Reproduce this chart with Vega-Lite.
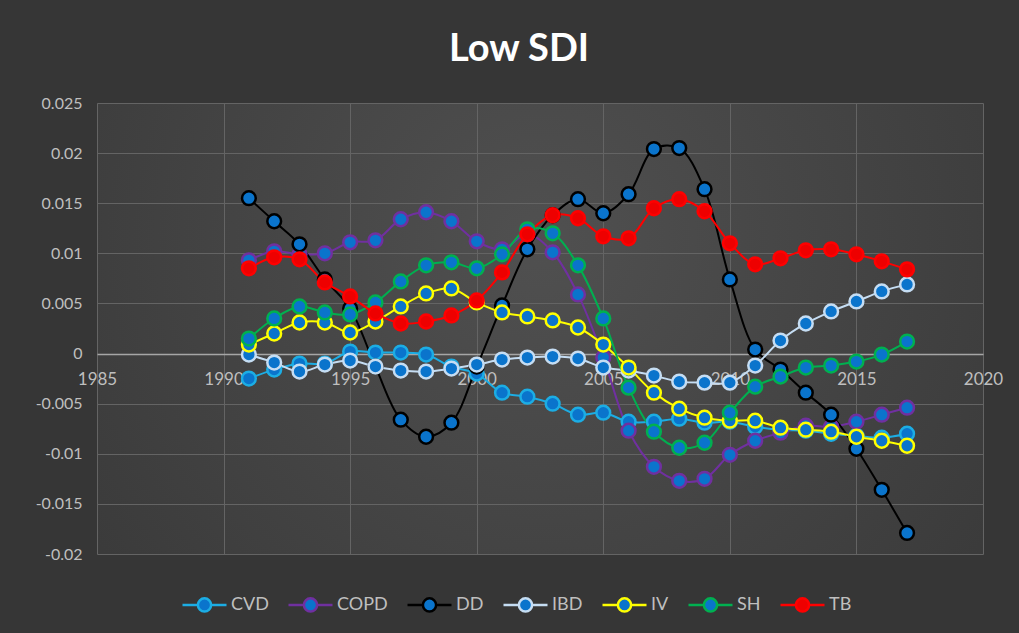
{
  "$schema": "https://vega.github.io/schema/vega-lite/v6.json",
  "width": 886,
  "height": 451,
  "autosize": {"type": "none"},
  "padding": {"left": 97, "top": 103, "right": 36, "bottom": 79},
  "background": "#363636",
  "title": {
    "text": "Low SDI",
    "font": "Lato",
    "fontSize": 38,
    "fontWeight": "bold",
    "color": "#ffffff",
    "anchor": "middle",
    "offset": 26,
    "dx": -21
  },
  "data": {
    "values": [
      {"year": 1991, "CVD": -0.0025, "COPD": 0.0093, "DD": 0.0155, "IBD": -0.0001, "IV": 0.0009, "SH": 0.0015, "TB": 0.0085},
      {"year": 1992, "CVD": -0.0016, "COPD": 0.0102, "DD": 0.0132, "IBD": -0.0009, "IV": 0.0020, "SH": 0.0035, "TB": 0.0096},
      {"year": 1993, "CVD": -0.0010, "COPD": 0.0099, "DD": 0.0109, "IBD": -0.0018, "IV": 0.0031, "SH": 0.0047, "TB": 0.0094},
      {"year": 1994, "CVD": -0.0010, "COPD": 0.0100, "DD": 0.0074, "IBD": -0.0011, "IV": 0.0031, "SH": 0.0041, "TB": 0.0071},
      {"year": 1995, "CVD": 0.0002, "COPD": 0.0111, "DD": 0.0045, "IBD": -0.0007, "IV": 0.0021, "SH": 0.0039, "TB": 0.0057},
      {"year": 1996, "CVD": 0.0001, "COPD": 0.0113, "DD": -0.0013, "IBD": -0.0013, "IV": 0.0032, "SH": 0.0051, "TB": 0.0040},
      {"year": 1997, "CVD": 0.0001, "COPD": 0.0134, "DD": -0.0066, "IBD": -0.0017, "IV": 0.0047, "SH": 0.0072, "TB": 0.0030},
      {"year": 1998, "CVD": -0.0001, "COPD": 0.0141, "DD": -0.0083, "IBD": -0.0018, "IV": 0.0060, "SH": 0.0088, "TB": 0.0032},
      {"year": 1999, "CVD": -0.0013, "COPD": 0.0132, "DD": -0.0069, "IBD": -0.0015, "IV": 0.0065, "SH": 0.0091, "TB": 0.0038},
      {"year": 2000, "CVD": -0.0020, "COPD": 0.0112, "DD": -0.0013, "IBD": -0.0011, "IV": 0.0051, "SH": 0.0085, "TB": 0.0053},
      {"year": 2001, "CVD": -0.0039, "COPD": 0.0104, "DD": 0.0048, "IBD": -0.0006, "IV": 0.0041, "SH": 0.0099, "TB": 0.0081},
      {"year": 2002, "CVD": -0.0043, "COPD": 0.0119, "DD": 0.0104, "IBD": -0.0004, "IV": 0.0037, "SH": 0.0124, "TB": 0.0119},
      {"year": 2003, "CVD": -0.0050, "COPD": 0.0101, "DD": 0.0138, "IBD": -0.0003, "IV": 0.0033, "SH": 0.0120, "TB": 0.0138},
      {"year": 2004, "CVD": -0.0061, "COPD": 0.0059, "DD": 0.0154, "IBD": -0.0005, "IV": 0.0026, "SH": 0.0088, "TB": 0.0135},
      {"year": 2005, "CVD": -0.0059, "COPD": -0.0004, "DD": 0.0140, "IBD": -0.0014, "IV": 0.0009, "SH": 0.0035, "TB": 0.0117},
      {"year": 2006, "CVD": -0.0068, "COPD": -0.0077, "DD": 0.0159, "IBD": -0.0017, "IV": -0.0014, "SH": -0.0034, "TB": 0.0115},
      {"year": 2007, "CVD": -0.0068, "COPD": -0.0113, "DD": 0.0204, "IBD": -0.0022, "IV": -0.0039, "SH": -0.0078, "TB": 0.0145},
      {"year": 2008, "CVD": -0.0065, "COPD": -0.0127, "DD": 0.0205, "IBD": -0.0028, "IV": -0.0055, "SH": -0.0094, "TB": 0.0154},
      {"year": 2009, "CVD": -0.0069, "COPD": -0.0125, "DD": 0.0164, "IBD": -0.0029, "IV": -0.0064, "SH": -0.0089, "TB": 0.0142},
      {"year": 2010, "CVD": -0.0068, "COPD": -0.0101, "DD": 0.0074, "IBD": -0.0029, "IV": -0.0067, "SH": -0.0059, "TB": 0.0110},
      {"year": 2011, "CVD": -0.0073, "COPD": -0.0087, "DD": 0.0004, "IBD": -0.0012, "IV": -0.0067, "SH": -0.0033, "TB": 0.0089},
      {"year": 2012, "CVD": -0.0076, "COPD": -0.0079, "DD": -0.0016, "IBD": 0.0013, "IV": -0.0074, "SH": -0.0023, "TB": 0.0095},
      {"year": 2013, "CVD": -0.0077, "COPD": -0.0072, "DD": -0.0039, "IBD": 0.0030, "IV": -0.0076, "SH": -0.0014, "TB": 0.0103},
      {"year": 2014, "CVD": -0.0080, "COPD": -0.0073, "DD": -0.0061, "IBD": 0.0042, "IV": -0.0078, "SH": -0.0012, "TB": 0.0104},
      {"year": 2015, "CVD": -0.0082, "COPD": -0.0068, "DD": -0.0095, "IBD": 0.0052, "IV": -0.0083, "SH": -0.0008, "TB": 0.0099},
      {"year": 2016, "CVD": -0.0084, "COPD": -0.0061, "DD": -0.0136, "IBD": 0.0062, "IV": -0.0087, "SH": -0.0001, "TB": 0.0092},
      {"year": 2017, "CVD": -0.0080, "COPD": -0.0054, "DD": -0.0179, "IBD": 0.0069, "IV": -0.0092, "SH": 0.0012, "TB": 0.0084}
    ]
  },
  "transform": [
    {"fold": ["CVD", "COPD", "DD", "IBD", "IV", "SH", "TB"], "as": ["series", "value"]}
  ],
  "encoding": {
    "x": {
      "field": "year",
      "type": "quantitative",
      "scale": {"domain": [1985, 2020], "nice": false, "zero": false},
      "axis": {
        "title": null,
        "values": [1985, 1990, 1995, 2000, 2005, 2010, 2015, 2020],
        "format": "d",
        "offset": -200,
        "grid": true,
        "gridColor": "#646464",
        "gridWidth": 1,
        "domain": true,
        "domainColor": "#a6a6a6",
        "domainWidth": 1.5,
        "ticks": false,
        "labelPadding": 17,
        "labelColor": "#bfbfbf",
        "labelFont": "Lato",
        "labelFontSize": 17,
        "labelFlush": false
      }
    },
    "y": {
      "field": "value",
      "type": "quantitative",
      "scale": {"domain": [-0.02, 0.025], "nice": false, "zero": false},
      "axis": {
        "title": null,
        "values": [-0.02, -0.015, -0.01, -0.005, 0, 0.005, 0.01, 0.015, 0.02, 0.025],
        "format": ".3~f",
        "grid": true,
        "gridColor": "#646464",
        "gridWidth": 1,
        "domain": false,
        "ticks": false,
        "labelPadding": 15,
        "labelColor": "#bfbfbf",
        "labelFont": "Lato",
        "labelFontSize": 16
      }
    }
  },
  "layer": [
    {
      "mark": {"type": "line", "strokeWidth": 2, "interpolate": "catmull-rom"},
      "encoding": {
        "stroke": {
          "field": "series",
          "type": "nominal",
          "sort": ["CVD", "COPD", "DD", "IBD", "IV", "SH", "TB"],
          "scale": {
            "domain": ["CVD", "COPD", "DD", "IBD", "IV", "SH", "TB"],
            "range": ["#1cade4", "#7030a0", "#000000", "#c5ddf3", "#ffff00", "#00b050", "#ff0000"]
          },
          "legend": {"title": null}
        }
      }
    },
    {
      "mark": {"type": "point", "filled": false, "size": 190, "strokeWidth": 2.5, "opacity": 1},
      "encoding": {
        "stroke": {
          "field": "series",
          "type": "nominal",
          "sort": ["CVD", "COPD", "DD", "IBD", "IV", "SH", "TB"],
          "scale": {
            "domain": ["CVD", "COPD", "DD", "IBD", "IV", "SH", "TB"],
            "range": ["#1cade4", "#7030a0", "#000000", "#c5ddf3", "#ffff00", "#00b050", "#ff0000"]
          },
          "legend": {"title": null}
        },
        "fill": {
          "field": "series",
          "type": "nominal",
          "sort": ["CVD", "COPD", "DD", "IBD", "IV", "SH", "TB"],
          "scale": {
            "domain": ["CVD", "COPD", "DD", "IBD", "IV", "SH", "TB"],
            "range": ["#0a74cc", "#0a74cc", "#0a74cc", "#0a74cc", "#0a74cc", "#0a74cc", "#ee0000"]
          },
          "legend": {"title": null}
        }
      }
    }
  ],
  "config": {
    "locale": {
      "number": {"decimal": ".", "thousands": ",", "grouping": [3], "currency": ["$", ""], "minus": "-"}
    },
    "view": {
      "stroke": null,
      "fill": {
        "gradient": "radial",
        "x1": 0.5, "y1": 0.4, "r1": 0,
        "x2": 0.5, "y2": 0.4, "r2": 0.75,
        "stops": [
          {"offset": 0, "color": "#505050"},
          {"offset": 1, "color": "#363636"}
        ]
      }
    },
    "legend": {
      "orient": "none",
      "legendX": 84,
      "legendY": 478,
      "direction": "horizontal",
      "labelColor": "#bfbfbf",
      "labelFont": "Lato",
      "labelFontSize": 18,
      "symbolType": "M-1,0H-0.3M0.3,0H1M-0.3,0A0.3,0.3 0 1,1 0.3,0A0.3,0.3 0 1,1 -0.3,0",
      "symbolSize": 1936,
      "symbolStrokeWidth": 2.5,
      "columnPadding": 14,
      "labelOffset": 3,
      "symbolOpacity": 1
    }
  }
}
